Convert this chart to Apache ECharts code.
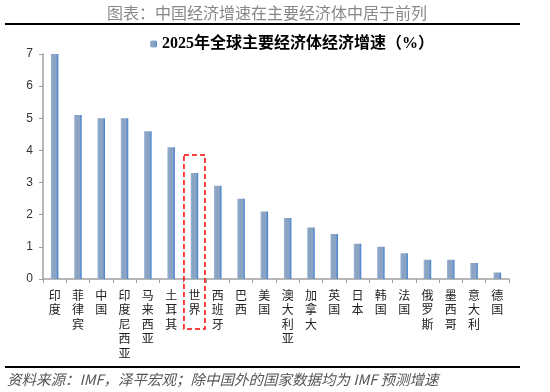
<!DOCTYPE html>
<html>
<head>
<meta charset="utf-8">
<script src="https://cdn.jsdelivr.net/npm/echarts@6/dist/echarts.min.js"></script>
<style>
  html, body { margin: 0; padding: 0; background: #fff; }
  #chart { width: 550px; height: 392px; }
</style>
</head>
<body>
<div id="chart"></div>
<script>
const countries = ['印度', '菲律宾', '中国', '印度尼西亚', '马来西亚', '土耳其', '世界', '西班牙', '巴西', '美国',
    '澳大利亚', '加拿大', '英国', '日本', '韩国', '法国', '俄罗斯', '墨西哥', '意大利', '德国'];
const growth = [7.0, 5.1, 5.0, 5.0, 4.6, 4.1, 3.3, 2.9, 2.5, 2.1, 1.9, 1.6, 1.4, 1.1, 1.0, 0.8, 0.6, 0.6, 0.5, 0.2];
const yTicks = [0, 1, 2, 3, 4, 5, 6, 7];
const seriesName = '2025年全球主要经济体经济增速（%）';
const highlight = '世界';

const myChart = echarts.init(document.getElementById('chart'));

const barColor = {
    type: 'linear', x: 0, y: 0, x2: 1, y2: 0,
    colorStops: [
        { offset: 0, color: '#9fb7d6' },
        { offset: 0.25, color: '#8aa3c2' },
        { offset: 0.7, color: '#8ca5c4' },
        { offset: 1, color: '#3a7dd2' }
    ]
};

let option = {
    animation: false,
    title: {
        text: '图表：中国经济增速在主要经济体中居于前列',
        left: 262, top: 0,
        textAlign: 'center',
        textStyle: {
            fontFamily: 'Noto Sans CJK SC',
            fontSize: 16,
            fontWeight: 'normal',
            color: '#888'
        }
    },
    legend: {
        data: [seriesName],
        left: 145, top: 31,
        itemWidth: 7, itemHeight: 7,
        itemGap: 4,
        textStyle: {
            fontFamily: 'Liberation Serif, Noto Sans CJK SC',
            fontSize: 16,
            fontWeight: 'bold',
            color: '#000'
        }
    },
    grid: { left: 43, right: 41, top: 54, bottom: 113 },
    xAxis: {
        type: 'category',
        data: countries,
        axisLine: { lineStyle: { color: '#a0a0a0', width: 1.5 } },
        axisTick: { show: true, length: 4, lineStyle: { color: '#a0a0a0' } },
        axisLabel: {
            interval: 0,
            margin: 9,
            fontFamily: 'Noto Sans CJK SC',
            fontSize: 12,
            lineHeight: 14.5,
            color: '#222',
            formatter: (v) => v.split('').join('\n')
        }
    },
    yAxis: {
        type: 'value',
        min: 0, max: 7, interval: 1,
        splitLine: { show: false },
        axisLine: { show: true, lineStyle: { color: '#a0a0a0', width: 1.5 } },
        axisTick: { show: true, length: 4, lineStyle: { color: '#a0a0a0' } },
        axisLabel: {
            margin: 10,
            fontFamily: 'Liberation Sans',
            fontSize: 12,
            color: '#333',
            formatter: (v) => yTicks.includes(v) ? String(v) : ''
        }
    },
    series: [{
        name: seriesName,
        type: 'bar',
        data: growth,
        barWidth: 7.5,
        itemStyle: { color: barColor }
    }]
};
myChart.setOption(option);

// 红色虚线框 + 上下分隔线
const cx = myChart.convertToPixel({ xAxisIndex: 0 }, highlight);
const topY = myChart.convertToPixel({ yAxisIndex: 0 }, 3.86);
myChart.setOption({
    graphic: [
        {
            type: 'rect',
            shape: { x: cx - 10.5, y: topY, width: 21, height: 329 - topY },
            style: { fill: 'none', stroke: '#ff0000', lineWidth: 1.5, lineDash: [5, 3] },
            z: 10
        },
        {
            type: 'line',
            shape: { x1: 5, y1: 24, x2: 520, y2: 24 },
            style: { stroke: '#000', lineWidth: 2 }
        },
        {
            type: 'line',
            shape: { x1: 5, y1: 367, x2: 520, y2: 367 },
            style: { stroke: '#000', lineWidth: 2 }
        },
        {
            type: 'text',
            left: 7, top: 372,
            style: {
                text: '资料来源：IMF，泽平宏观；除中国外的国家数据均为 IMF 预测增速',
                font: 'italic 14.5px "Noto Sans CJK SC"',
                fill: '#555'
            }
        }
    ]
});
</script>
</body>
</html>
